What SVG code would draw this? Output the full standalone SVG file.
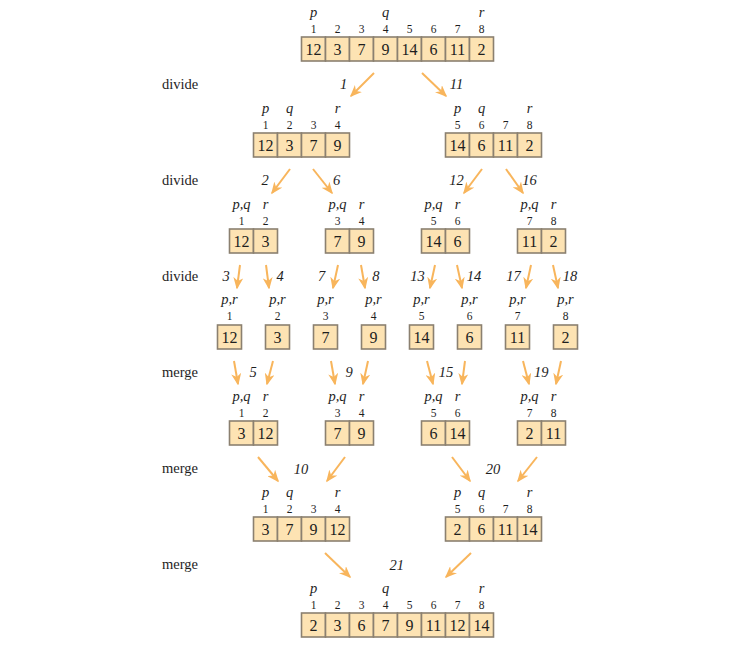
<svg xmlns="http://www.w3.org/2000/svg" width="750" height="650" viewBox="0 0 750 650" font-family="'Liberation Serif', 'Times New Roman', 'DejaVu Serif', serif">
<style>
text{font-family:"Liberation Serif","Times New Roman","DejaVu Serif",serif}
.cell{fill:#fde3b3;stroke:#8b8070;stroke-width:1.6}
.v{font-size:16px;fill:#1e1e1e;text-anchor:middle}
.i{font-size:11.5px;fill:#1e1e1e;text-anchor:middle}
.l{font-size:14.5px;font-style:italic;fill:#1e1e1e;text-anchor:middle}
.s{font-size:14.5px;font-style:italic;fill:#1e1e1e;text-anchor:middle}
.op{font-size:14.5px;fill:#1e1e1e}
.a{stroke:#f8b55c;stroke-width:2;fill:none;marker-end:url(#ah)}
</style>
<defs>
<marker id="ah" markerUnits="userSpaceOnUse" viewBox="0 0 12 10" markerWidth="12" markerHeight="10" refX="10.5" refY="5" orient="auto">
<path d="M0,0 L12,5 L0,10 L3.5,5 Z" fill="#f8b55c"/>
</marker>
</defs>
<rect width="750" height="650" fill="#ffffff"/>

<g id="ops">
<text class="op" x="162" y="89">divide</text>
<text class="op" x="162" y="185">divide</text>
<text class="op" x="162" y="281">divide</text>
<text class="op" x="162" y="377">merge</text>
<text class="op" x="162" y="473">merge</text>
<text class="op" x="162" y="569">merge</text>
</g>

<g id="connectors">
<line class="a" x1="374" y1="73" x2="351" y2="96"/>
<line class="a" x1="422" y1="73" x2="446" y2="96"/>
<line class="a" x1="290" y1="169" x2="272" y2="193"/>
<line class="a" x1="313" y1="169" x2="332" y2="193"/>
<line class="a" x1="482" y1="169" x2="464" y2="193"/>
<line class="a" x1="506" y1="169" x2="523" y2="193"/>
<line class="a" x1="240" y1="265" x2="237" y2="288"/>
<line class="a" x1="266" y1="265" x2="269" y2="288"/>
<line class="a" x1="338" y1="265" x2="333" y2="288"/>
<line class="a" x1="361" y1="265" x2="365" y2="288"/>
<line class="a" x1="435" y1="265" x2="430" y2="288"/>
<line class="a" x1="457" y1="265" x2="462" y2="288"/>
<line class="a" x1="531" y1="265" x2="526" y2="288"/>
<line class="a" x1="553" y1="265" x2="558" y2="288"/>
<line class="a" x1="234" y1="361" x2="238" y2="384"/>
<line class="a" x1="273" y1="361" x2="267" y2="384"/>
<line class="a" x1="331" y1="361" x2="335" y2="384"/>
<line class="a" x1="368" y1="361" x2="363" y2="384"/>
<line class="a" x1="427" y1="361" x2="433" y2="384"/>
<line class="a" x1="465" y1="361" x2="462" y2="384"/>
<line class="a" x1="523" y1="361" x2="529" y2="384"/>
<line class="a" x1="561" y1="361" x2="556" y2="384"/>
<line class="a" x1="258" y1="457" x2="278" y2="481"/>
<line class="a" x1="345" y1="457" x2="327" y2="481"/>
<line class="a" x1="452" y1="457" x2="470" y2="481"/>
<line class="a" x1="537" y1="457" x2="518" y2="481"/>
<line class="a" x1="325" y1="553" x2="350" y2="577"/>
<line class="a" x1="471" y1="553" x2="446" y2="577"/>
</g>

<g id="steps">
<text class="s" x="343.5" y="89">1</text>
<text class="s" x="456.5" y="89">11</text>
<text class="s" x="265" y="185">2</text>
<text class="s" x="336.5" y="185">6</text>
<text class="s" x="456.5" y="185">12</text>
<text class="s" x="529.5" y="185">16</text>
<text class="s" x="226" y="281">3</text>
<text class="s" x="280" y="281">4</text>
<text class="s" x="321.7" y="281">7</text>
<text class="s" x="375.8" y="281">8</text>
<text class="s" x="417.5" y="281">13</text>
<text class="s" x="474" y="281">14</text>
<text class="s" x="513.5" y="281">17</text>
<text class="s" x="570" y="281">18</text>
<text class="s" x="253" y="377">5</text>
<text class="s" x="349" y="377">9</text>
<text class="s" x="446" y="377">15</text>
<text class="s" x="541.3" y="377">19</text>
<text class="s" x="301" y="474">10</text>
<text class="s" x="493" y="474">20</text>
<text class="s" x="396.7" y="570">21</text>
</g>

<!-- Level 1 -->
<g id="a1">
<rect class="cell" x="301.5" y="37" width="24" height="24"/><rect class="cell" x="325.5" y="37" width="24" height="24"/><rect class="cell" x="349.5" y="37" width="24" height="24"/><rect class="cell" x="373.5" y="37" width="24" height="24"/><rect class="cell" x="397.5" y="37" width="24" height="24"/><rect class="cell" x="421.5" y="37" width="24" height="24"/><rect class="cell" x="445.5" y="37" width="24" height="24"/><rect class="cell" x="469.5" y="37" width="24" height="24"/>
<text class="v" x="313.5" y="54.5">12</text><text class="v" x="337.5" y="54.5">3</text><text class="v" x="361.5" y="54.5">7</text><text class="v" x="385.5" y="54.5">9</text><text class="v" x="409.5" y="54.5">14</text><text class="v" x="433.5" y="54.5">6</text><text class="v" x="457.5" y="54.5">11</text><text class="v" x="481.5" y="54.5">2</text>
<text class="i" x="313.5" y="33">1</text><text class="i" x="337.5" y="33">2</text><text class="i" x="361.5" y="33">3</text><text class="i" x="385.5" y="33">4</text><text class="i" x="409.5" y="33">5</text><text class="i" x="433.5" y="33">6</text><text class="i" x="457.5" y="33">7</text><text class="i" x="481.5" y="33">8</text>
<text class="l" x="313.5" y="17">p</text><text class="l" x="385.5" y="17">q</text><text class="l" x="481.5" y="17">r</text>
</g>

<!-- Level 2 -->
<g id="a2l">
<rect class="cell" x="253.5" y="133" width="24" height="24"/><rect class="cell" x="277.5" y="133" width="24" height="24"/><rect class="cell" x="301.5" y="133" width="24" height="24"/><rect class="cell" x="325.5" y="133" width="24" height="24"/>
<text class="v" x="265.5" y="150.5">12</text><text class="v" x="289.5" y="150.5">3</text><text class="v" x="313.5" y="150.5">7</text><text class="v" x="337.5" y="150.5">9</text>
<text class="i" x="265.5" y="129">1</text><text class="i" x="289.5" y="129">2</text><text class="i" x="313.5" y="129">3</text><text class="i" x="337.5" y="129">4</text>
<text class="l" x="265.5" y="113">p</text><text class="l" x="289.5" y="113">q</text><text class="l" x="337.5" y="113">r</text>
</g>
<g id="a2r">
<rect class="cell" x="445.5" y="133" width="24" height="24"/><rect class="cell" x="469.5" y="133" width="24" height="24"/><rect class="cell" x="493.5" y="133" width="24" height="24"/><rect class="cell" x="517.5" y="133" width="24" height="24"/>
<text class="v" x="457.5" y="150.5">14</text><text class="v" x="481.5" y="150.5">6</text><text class="v" x="505.5" y="150.5">11</text><text class="v" x="529.5" y="150.5">2</text>
<text class="i" x="457.5" y="129">5</text><text class="i" x="481.5" y="129">6</text><text class="i" x="505.5" y="129">7</text><text class="i" x="529.5" y="129">8</text>
<text class="l" x="457.5" y="113">p</text><text class="l" x="481.5" y="113">q</text><text class="l" x="529.5" y="113">r</text>
</g>

<!-- Level 3 -->
<g id="a3a">
<rect class="cell" x="229.5" y="229" width="24" height="24"/><rect class="cell" x="253.5" y="229" width="24" height="24"/>
<text class="v" x="241.5" y="246.5">12</text><text class="v" x="265.5" y="246.5">3</text>
<text class="i" x="241.5" y="225">1</text><text class="i" x="265.5" y="225">2</text>
<text class="l" x="241.5" y="209">p,q</text><text class="l" x="265.5" y="209">r</text>
</g>
<g id="a3b">
<rect class="cell" x="325.5" y="229" width="24" height="24"/><rect class="cell" x="349.5" y="229" width="24" height="24"/>
<text class="v" x="337.5" y="246.5">7</text><text class="v" x="361.5" y="246.5">9</text>
<text class="i" x="337.5" y="225">3</text><text class="i" x="361.5" y="225">4</text>
<text class="l" x="337.5" y="209">p,q</text><text class="l" x="361.5" y="209">r</text>
</g>
<g id="a3c">
<rect class="cell" x="421.5" y="229" width="24" height="24"/><rect class="cell" x="445.5" y="229" width="24" height="24"/>
<text class="v" x="433.5" y="246.5">14</text><text class="v" x="457.5" y="246.5">6</text>
<text class="i" x="433.5" y="225">5</text><text class="i" x="457.5" y="225">6</text>
<text class="l" x="433.5" y="209">p,q</text><text class="l" x="457.5" y="209">r</text>
</g>
<g id="a3d">
<rect class="cell" x="517.5" y="229" width="24" height="24"/><rect class="cell" x="541.5" y="229" width="24" height="24"/>
<text class="v" x="529.5" y="246.5">11</text><text class="v" x="553.5" y="246.5">2</text>
<text class="i" x="529.5" y="225">7</text><text class="i" x="553.5" y="225">8</text>
<text class="l" x="529.5" y="209">p,q</text><text class="l" x="553.5" y="209">r</text>
</g>

<!-- Level 4 -->
<g id="s1"><rect class="cell" x="217.5" y="325" width="24" height="24"/><text class="v" x="229.5" y="342.5">12</text><text class="i" x="229.5" y="320">1</text><text class="l" x="229.5" y="304">p,r</text></g>
<g id="s2"><rect class="cell" x="265.5" y="325" width="24" height="24"/><text class="v" x="277.5" y="342.5">3</text><text class="i" x="277.5" y="320">2</text><text class="l" x="277.5" y="304">p,r</text></g>
<g id="s3"><rect class="cell" x="313.5" y="325" width="24" height="24"/><text class="v" x="325.5" y="342.5">7</text><text class="i" x="325.5" y="320">3</text><text class="l" x="325.5" y="304">p,r</text></g>
<g id="s4"><rect class="cell" x="361.5" y="325" width="24" height="24"/><text class="v" x="373.5" y="342.5">9</text><text class="i" x="373.5" y="320">4</text><text class="l" x="373.5" y="304">p,r</text></g>
<g id="s5"><rect class="cell" x="409.5" y="325" width="24" height="24"/><text class="v" x="421.5" y="342.5">14</text><text class="i" x="421.5" y="320">5</text><text class="l" x="421.5" y="304">p,r</text></g>
<g id="s6"><rect class="cell" x="457.5" y="325" width="24" height="24"/><text class="v" x="469.5" y="342.5">6</text><text class="i" x="469.5" y="320">6</text><text class="l" x="469.5" y="304">p,r</text></g>
<g id="s7"><rect class="cell" x="505.5" y="325" width="24" height="24"/><text class="v" x="517.5" y="342.5">11</text><text class="i" x="517.5" y="320">7</text><text class="l" x="517.5" y="304">p,r</text></g>
<g id="s8"><rect class="cell" x="553.5" y="325" width="24" height="24"/><text class="v" x="565.5" y="342.5">2</text><text class="i" x="565.5" y="320">8</text><text class="l" x="565.5" y="304">p,r</text></g>

<!-- Level 5 -->
<g id="m5a">
<rect class="cell" x="229.5" y="421" width="24" height="24"/><rect class="cell" x="253.5" y="421" width="24" height="24"/>
<text class="v" x="241.5" y="438.5">3</text><text class="v" x="265.5" y="438.5">12</text>
<text class="i" x="241.5" y="417">1</text><text class="i" x="265.5" y="417">2</text>
<text class="l" x="241.5" y="401">p,q</text><text class="l" x="265.5" y="401">r</text>
</g>
<g id="m5b">
<rect class="cell" x="325.5" y="421" width="24" height="24"/><rect class="cell" x="349.5" y="421" width="24" height="24"/>
<text class="v" x="337.5" y="438.5">7</text><text class="v" x="361.5" y="438.5">9</text>
<text class="i" x="337.5" y="417">3</text><text class="i" x="361.5" y="417">4</text>
<text class="l" x="337.5" y="401">p,q</text><text class="l" x="361.5" y="401">r</text>
</g>
<g id="m5c">
<rect class="cell" x="421.5" y="421" width="24" height="24"/><rect class="cell" x="445.5" y="421" width="24" height="24"/>
<text class="v" x="433.5" y="438.5">6</text><text class="v" x="457.5" y="438.5">14</text>
<text class="i" x="433.5" y="417">5</text><text class="i" x="457.5" y="417">6</text>
<text class="l" x="433.5" y="401">p,q</text><text class="l" x="457.5" y="401">r</text>
</g>
<g id="m5d">
<rect class="cell" x="517.5" y="421" width="24" height="24"/><rect class="cell" x="541.5" y="421" width="24" height="24"/>
<text class="v" x="529.5" y="438.5">2</text><text class="v" x="553.5" y="438.5">11</text>
<text class="i" x="529.5" y="417">7</text><text class="i" x="553.5" y="417">8</text>
<text class="l" x="529.5" y="401">p,q</text><text class="l" x="553.5" y="401">r</text>
</g>

<!-- Level 6 -->
<g id="m6l">
<rect class="cell" x="253.5" y="517" width="24" height="24"/><rect class="cell" x="277.5" y="517" width="24" height="24"/><rect class="cell" x="301.5" y="517" width="24" height="24"/><rect class="cell" x="325.5" y="517" width="24" height="24"/>
<text class="v" x="265.5" y="534.5">3</text><text class="v" x="289.5" y="534.5">7</text><text class="v" x="313.5" y="534.5">9</text><text class="v" x="337.5" y="534.5">12</text>
<text class="i" x="265.5" y="513">1</text><text class="i" x="289.5" y="513">2</text><text class="i" x="313.5" y="513">3</text><text class="i" x="337.5" y="513">4</text>
<text class="l" x="265.5" y="497">p</text><text class="l" x="289.5" y="497">q</text><text class="l" x="337.5" y="497">r</text>
</g>
<g id="m6r">
<rect class="cell" x="445.5" y="517" width="24" height="24"/><rect class="cell" x="469.5" y="517" width="24" height="24"/><rect class="cell" x="493.5" y="517" width="24" height="24"/><rect class="cell" x="517.5" y="517" width="24" height="24"/>
<text class="v" x="457.5" y="534.5">2</text><text class="v" x="481.5" y="534.5">6</text><text class="v" x="505.5" y="534.5">11</text><text class="v" x="529.5" y="534.5">14</text>
<text class="i" x="457.5" y="513">5</text><text class="i" x="481.5" y="513">6</text><text class="i" x="505.5" y="513">7</text><text class="i" x="529.5" y="513">8</text>
<text class="l" x="457.5" y="497">p</text><text class="l" x="481.5" y="497">q</text><text class="l" x="529.5" y="497">r</text>
</g>

<!-- Level 7 -->
<g id="m7">
<rect class="cell" x="301.5" y="613" width="24" height="24"/><rect class="cell" x="325.5" y="613" width="24" height="24"/><rect class="cell" x="349.5" y="613" width="24" height="24"/><rect class="cell" x="373.5" y="613" width="24" height="24"/><rect class="cell" x="397.5" y="613" width="24" height="24"/><rect class="cell" x="421.5" y="613" width="24" height="24"/><rect class="cell" x="445.5" y="613" width="24" height="24"/><rect class="cell" x="469.5" y="613" width="24" height="24"/>
<text class="v" x="313.5" y="630.5">2</text><text class="v" x="337.5" y="630.5">3</text><text class="v" x="361.5" y="630.5">6</text><text class="v" x="385.5" y="630.5">7</text><text class="v" x="409.5" y="630.5">9</text><text class="v" x="433.5" y="630.5">11</text><text class="v" x="457.5" y="630.5">12</text><text class="v" x="481.5" y="630.5">14</text>
<text class="i" x="313.5" y="609">1</text><text class="i" x="337.5" y="609">2</text><text class="i" x="361.5" y="609">3</text><text class="i" x="385.5" y="609">4</text><text class="i" x="409.5" y="609">5</text><text class="i" x="433.5" y="609">6</text><text class="i" x="457.5" y="609">7</text><text class="i" x="481.5" y="609">8</text>
<text class="l" x="313.5" y="593">p</text><text class="l" x="385.5" y="593">q</text><text class="l" x="481.5" y="593">r</text>
</g>
</svg>
